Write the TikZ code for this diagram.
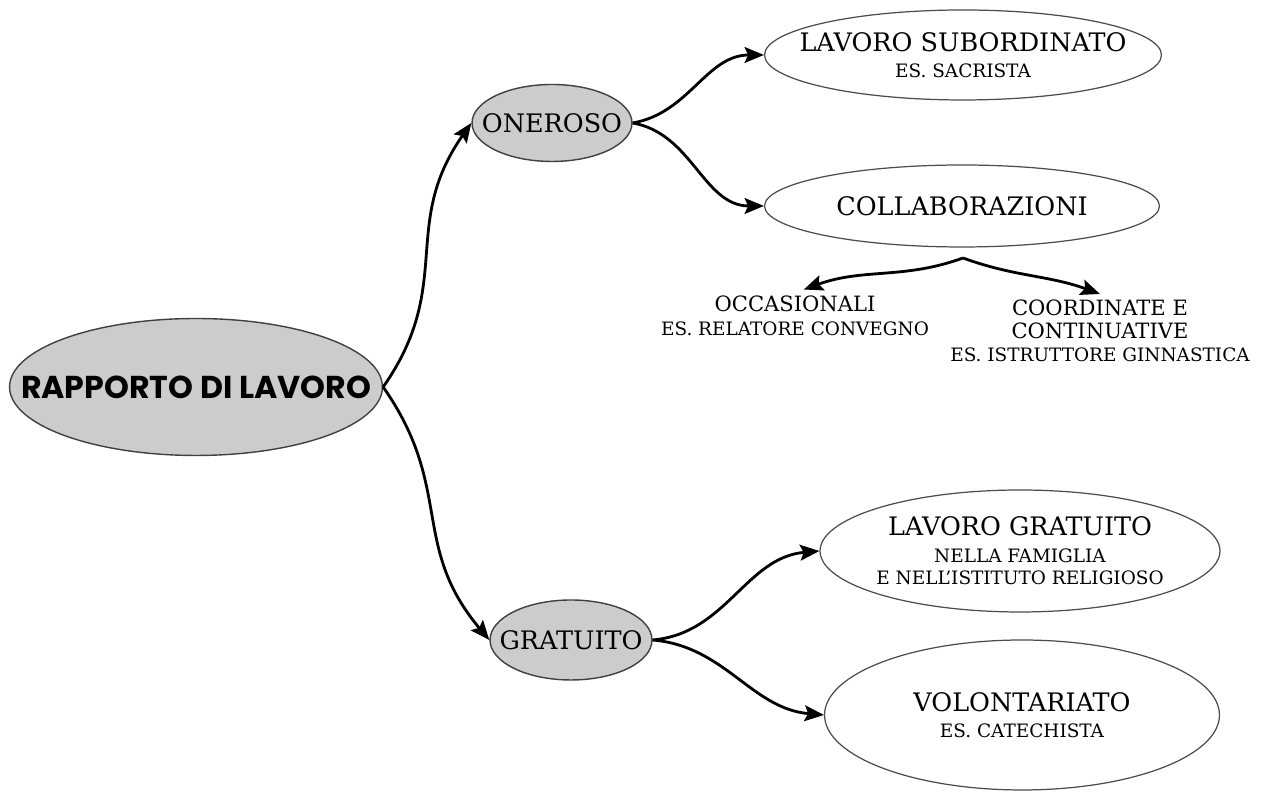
\documentclass[tikz,border=0pt]{standalone}
\usepackage{fontspec}
\setmainfont{DejaVu Serif}
\newfontfamily\titolofont{Poppins}
\usepackage{tikz}
\usetikzlibrary{arrows.meta,shapes.geometric}
\newcommand{\esempio}[1]{{\fontsize{10.5}{12}\selectfont #1}}
\tikzset{
    %Define standard arrow tip
    >={Stealth[length=11pt,width=9pt,inset=2pt]},
    %Define style for ellipses
    radice/.style={
           ellipse,
           draw=black!75, line width=0.8pt,
           inner sep=0pt,
           fill=black!20!white},
    ramo/.style={
           ellipse,
           draw=black!75, line width=0.8pt,
           inner sep=0pt,
           fill=black!20!white},
    foglia/.style={
           ellipse,
           draw=black!70, line width=0.7pt,
           inner sep=0pt,
           fill=white},
    % Define text styles
    titolo/.style={
           font=\titolofont\bfseries\fontsize{18}{21}\selectfont,
           text centered},
    testo/.style={
           font=\fontsize{14.5}{15}\selectfont,
           align=center},
    medio/.style={
           font=\fontsize{12}{14}\selectfont,
           align=center},
    % Define arrow style
    freccia/.style={
           ->,
           line width=1.6pt}
}
\begin{document}
\begin{tikzpicture}[x=0.02cm,y=0.02cm]
\useasboundingbox (0,0) rectangle (1269,793);
% ellissi
\node[radice, minimum width=7.46cm, minimum height=2.74cm] (rap) at (196,406) {};
\node[ramo, minimum width=3.2cm, minimum height=1.54cm] (oner) at (552,670) {};
\node[ramo, minimum width=3.24cm, minimum height=1.6cm] (grat) at (571,153) {};
\node[foglia, minimum width=7.94cm, minimum height=1.8cm] (sub) at (963,738) {};
\node[foglia, minimum width=7.9cm, minimum height=1.64cm] (coll) at (962,587) {};
\node[foglia, minimum width=8cm, minimum height=2.44cm] (lgrat) at (1020,242) {};
\node[foglia, minimum width=7.9cm, minimum height=3cm] (vol) at (1022,78) {};
% testi
\node[titolo] (rapT) at (rap) {RAPPORTO DI LAVORO};
\node[testo] (onerT) at (oner) {ONEROSO};
\node[testo] (gratT) at (grat) {GRATUITO};
\node[testo] (subT) at (sub) {LAVORO SUBORDINATO\\\esempio{ES. SACRISTA}};
\node[testo] (collT) at (coll) {COLLABORAZIONI};
\node[testo] (lgratT) at (lgrat) {LAVORO GRATUITO\\\esempio{NELLA FAMIGLIA}\\[-2pt]\esempio{E NELL'ISTITUTO RELIGIOSO}};
\node[testo] (volT) at (vol) {VOLONTARIATO\\\esempio{ES. CATECHISTA}};
\node[medio] (occ) at (795,477) {OCCASIONALI\\\esempio{ES. RELATORE CONVEGNO}};
\node[medio] (coord) at (1100,462) {COORDINATE E\\[-1pt]CONTINUATIVE\\[-1pt]\esempio{ES. ISTRUTTORE GINNASTICA}};
\coordinate (bivio) at (963,535);
% frecce
\draw[freccia] (rap.east) to[out=55,in=-125,looseness=1.15] (oner.west);
\draw[freccia] (rap.east) to[out=-55,in=130,looseness=1.15] (grat.west);
\draw[freccia] (oner.east) to[out=10,in=180] (sub.west);
\draw[freccia] (oner.east) to[out=-10,in=180] (coll.west);
\draw[freccia] (grat.east) to[out=5,in=185] (lgrat.west);
\draw[freccia] (grat.east) to[out=-5,in=175] (vol.west);
\draw[freccia] (bivio) to[out=200,in=20] ([xshift=5pt]occ.north);
\draw[freccia] (bivio) to[out=-20,in=160] (coord.north);
\end{tikzpicture}
\end{document}
